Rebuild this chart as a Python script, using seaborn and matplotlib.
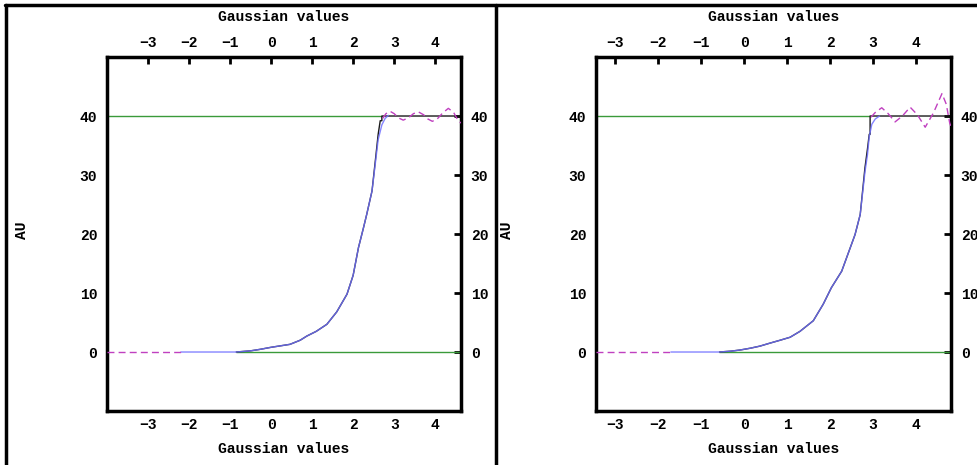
import matplotlib
matplotlib.use("Agg")
import matplotlib.pyplot as plt
import seaborn as sns
from matplotlib.lines import Line2D

# ---- data ----
# left panel: empirical cdf (black), smooth fit (blue), extension (magenta dashed)
left_ecdf_x = [-0.85, -0.5, -0.27, 0.0, 0.46, 0.71, 0.87, 1.1, 1.36, 1.6, 1.85, 2.0,
               2.13, 2.25, 2.33, 2.46, 2.55, 2.61, 2.66, 2.70, 2.70, 4.63]
left_ecdf_y = [0, 0.2, 0.45, 0.8, 1.3, 2.0, 2.7, 3.5, 4.7, 6.8, 9.8, 13,
               17.7, 21, 23.3, 27.3, 33, 36.9, 39.2, 39.2, 40, 40]
left_fit_x = [-2.2, -0.85, -0.5, -0.27, 0.0, 0.46, 0.71, 0.87, 1.1, 1.36, 1.6, 1.85, 2.0,
              2.13, 2.25, 2.33, 2.46, 2.55, 2.61, 2.70, 2.78, 2.86]
left_fit_y = [0, 0, 0.2, 0.45, 0.8, 1.3, 2.0, 2.7, 3.5, 4.7, 6.8, 9.8, 13,
              17.7, 21, 23.3, 27.3, 32.5, 36.0, 38.5, 39.6, 40.1]
left_ext_x = [2.72, 2.80, 2.90, 3.00, 3.10, 3.22, 3.35, 3.47, 3.59, 3.72, 3.82, 3.93,
              4.05, 4.18, 4.32, 4.45, 4.56, 4.63]
left_ext_y = [39.6, 40.4, 40.8, 40.4, 39.7, 39.3, 39.7, 40.4, 40.7, 40.2, 39.5, 39.1,
              39.5, 40.5, 41.3, 40.6, 39.2, 38.8]
left_tail_x = [-4.0, -2.2]
left_tail_y = [0, 0]
left_xlim = (-4.0, 4.63)

# right panel
right_ecdf_x = [-0.57, -0.3, -0.09, 0.15, 0.37, 0.6, 0.84, 1.07, 1.30, 1.61, 1.84, 2.03,
                2.27, 2.47, 2.58, 2.70, 2.81, 2.87, 2.91, 2.93, 2.93, 4.81]
right_ecdf_y = [0, 0.15, 0.34, 0.65, 1.0, 1.5, 2.0, 2.5, 3.5, 5.3, 8.1, 10.9,
                13.7, 17.7, 19.9, 23.3, 31.2, 34.5, 36.9, 36.9, 40, 40]
right_fit_x = [-1.7, -0.57, -0.3, -0.09, 0.15, 0.37, 0.6, 0.84, 1.07, 1.30, 1.61, 1.84,
               2.03, 2.27, 2.47, 2.58, 2.70, 2.81, 2.87, 2.91, 2.97, 3.05, 3.15]
right_fit_y = [0, 0, 0.15, 0.34, 0.65, 1.0, 1.5, 2.0, 2.5, 3.5, 5.3, 8.1,
               10.9, 13.7, 17.7, 19.9, 23.3, 30.5, 33.5, 36.5, 38.6, 39.5, 40.0]
right_ext_x = [2.95, 3.05, 3.20, 3.35, 3.51, 3.68, 3.86, 4.03, 4.21, 4.40, 4.60, 4.70, 4.78, 4.81]
right_ext_y = [39.8, 40.6, 41.4, 40.4, 39.0, 40.0, 41.5, 40.2, 38.1, 40.5, 43.8, 42.0, 38.8, 38.2]
right_tail_x = [-3.44, -1.7]
right_tail_y = [0, 0]
right_xlim = (-3.44, 4.81)

x_ticks = [-3, -2, -1, 0, 1, 2, 3, 4]
y_ticks = [0, 10, 20, 30, 40]
y_lim = (-10, 50)
upper = 40
lower = 0

sns.set_theme(style="white")
plt.rcParams['font.family'] = ['Liberation Mono', 'DejaVu Sans Mono']
plt.rcParams['font.weight'] = 'bold'
plt.rcParams['text.color'] = 'black'

fig = plt.figure(figsize=(9.77, 4.65), dpi=100)

panels = [
    (left_ecdf_x, left_ecdf_y, left_fit_x, left_fit_y, left_ext_x, left_ext_y,
     left_tail_x, left_tail_y, left_xlim, [0.1095, 0.1161, 0.3624, 0.7613], -0.24),
    (right_ecdf_x, right_ecdf_y, right_fit_x, right_fit_y, right_ext_x, right_ext_y,
     right_tail_x, right_tail_y, right_xlim, [0.6100, 0.1161, 0.3634, 0.7613], -0.25),
]

dash = (0, (5, 3))

for ex, ey, fx, fy, tx, ty, lx, ly, xlim, rect, au_x in panels:
    ax = fig.add_axes(rect)
    # bounds
    ax.hlines(lower, ex[0], xlim[1], color="#3a9a3a", lw=1, zorder=1)
    ax.hlines(upper, xlim[0], ex[-3], color="#3a9a3a", lw=1, zorder=1)
    sns.lineplot(x=ex, y=ey, ax=ax, color="#1a1a1a", lw=1, sort=False,
                 estimator=None, zorder=2)
    sns.lineplot(x=fx, y=fy, ax=ax, color="#7070ff", lw=1, alpha=0.85, sort=False,
                 estimator=None, zorder=3)
    sns.lineplot(x=tx, y=ty, ax=ax, color="#c040c0", lw=1, sort=False, estimator=None,
                 zorder=3, linestyle=dash)
    sns.lineplot(x=lx, y=ly, ax=ax, color="#c040c0", lw=1, sort=False, estimator=None,
                 zorder=3, linestyle=dash)

    ax.set_xlim(*xlim)
    ax.set_ylim(*y_lim)
    ax.set_xticks(x_ticks)
    ax.set_yticks(y_ticks)
    ax.set_xticklabels([str(v).replace('-', '\u2212') for v in x_ticks])
    ax.set_xlabel("")
    ax.set_ylabel("")
    ax.tick_params(direction="in", length=5, width=2, top=True, right=True,
                   labeltop=True, labelright=True, labelsize=10.5,
                   colors="black")
    ax.tick_params(axis="x", pad=5)
    ax.tick_params(axis="y", pad=7)
    for lab in ax.get_xticklabels() + ax.get_yticklabels():
        lab.set_fontweight("bold")
    for sp in ax.spines.values():
        sp.set_visible(True)
        sp.set_color("black")
        sp.set_linewidth(2.5)

    ax.text(0.5, 1.113, "Gaussian values", transform=ax.transAxes, ha="center",
            va="center", fontsize=10.5, fontweight="bold")
    ax.text(0.5, -0.107, "Gaussian values", transform=ax.transAxes, ha="center",
            va="center", fontsize=10.5, fontweight="bold")
    ax.text(au_x, 0.51, "AU", transform=ax.transAxes, ha="center", va="center",
            rotation=90, fontsize=10.5, fontweight="bold")

# outer frame lines of the page
W, H = 977, 465
fig.add_artist(Line2D([5 / W, 1], [1 - 5 / H, 1 - 5 / H], color="black", lw=2.5,
                      transform=fig.transFigure))
fig.add_artist(Line2D([6 / W, 6 / W], [0, 1 - 5 / H], color="black", lw=2.5,
                      transform=fig.transFigure))
fig.add_artist(Line2D([496 / W, 496 / W], [0, 1 - 5 / H], color="black", lw=2.5,
                      transform=fig.transFigure))

fig.savefig("out.png", dpi=100)
